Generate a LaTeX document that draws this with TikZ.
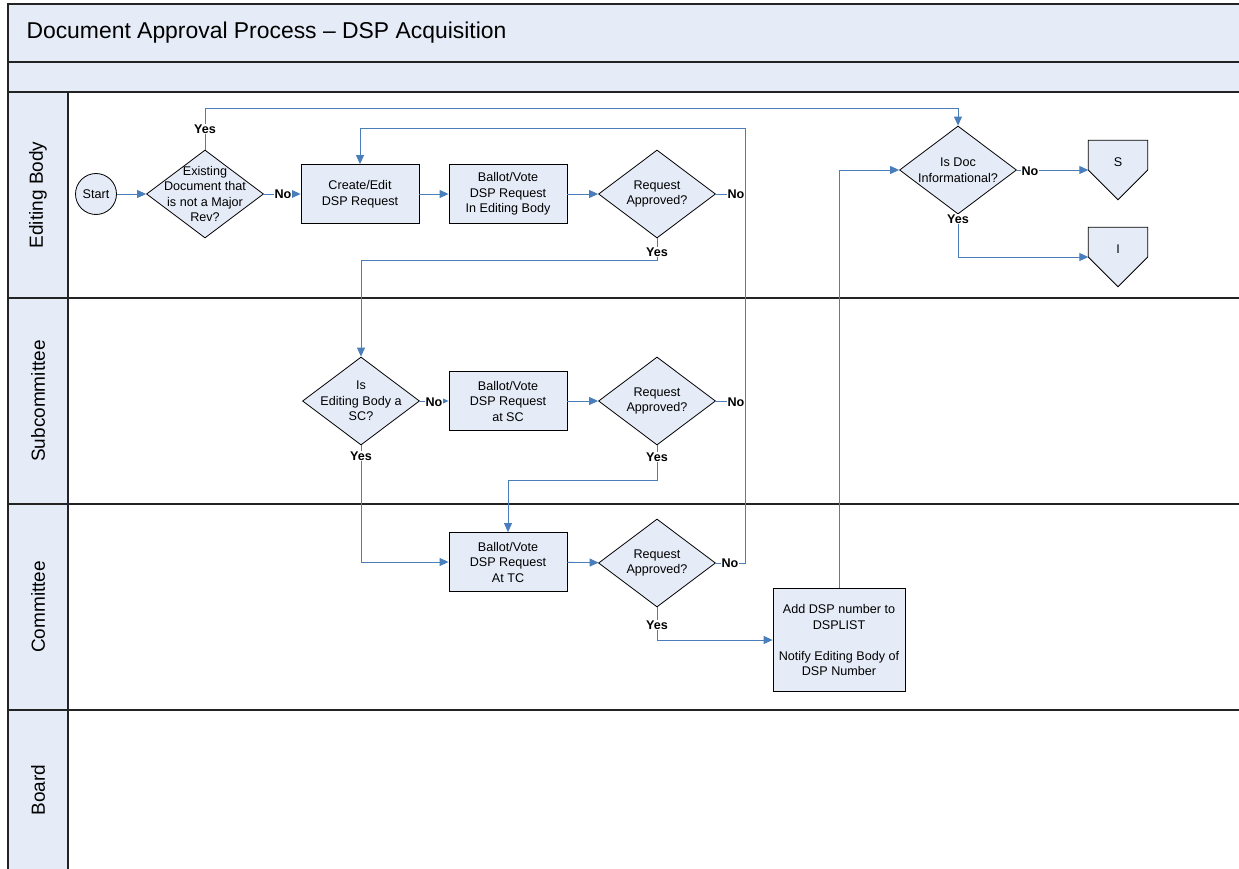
\documentclass[tikz,border=0pt]{standalone}
\usepackage{fontspec}
\setmainfont{Liberation Sans}
\usetikzlibrary{shapes.geometric,arrows.meta,calc}
\definecolor{lb}{RGB}{230,236,247}
\definecolor{cn}{RGB}{74,126,187}
\definecolor{fr}{RGB}{35,35,35}
\begin{document}
\begin{tikzpicture}[x=1pt,y=-1pt,
  txt/.style={font=\fontsize{12.6}{15.5}\selectfont, align=center},
  box/.style={draw=black, fill=lb, line width=0.8pt, minimum width=118pt, minimum height=59pt, inner sep=0pt, txt},
  dia/.style={draw=black, fill=lb, line width=0.8pt, shape=diamond, minimum width=117pt, minimum height=88pt, inner sep=0pt},
  dlabel/.style={label={[txt]center:#1}},
  conn/.style={draw=cn, line width=0.9pt, -{Triangle[length=9pt,width=8pt]}},
  cline/.style={draw=cn, line width=0.9pt},
  yn/.style={font=\fontsize{12.6}{15}\selectfont\bfseries, fill=white, inner sep=1pt},
  lanelbl/.style={font=\fontsize{19}{21}\selectfont, rotate=90},
  frame/.style={draw=fr, line width=1.1pt},
]
\useasboundingbox (0,0) rectangle (1239,869);
% frame
\fill[lb] (8,4) rectangle (1245,92);
\fill[lb] (8,92) rectangle (68,869);
\draw[frame] (1245,4) -- (8,4) -- (8,869);
\draw[frame] (8,62) -- (1245,62);
\draw[frame] (8,92) -- (1245,92);
\draw[frame] (68,92) -- (68,869);
\draw[frame] (8,298) -- (1245,298);
\draw[frame] (8,504) -- (1245,504);
\draw[frame] (8,710) -- (1245,710);
\node[anchor=west, font=\fontsize{22.9}{26}\selectfont] (title) at (23,33) {Document Approval Process -- DSP Acquisition};
\node[lanelbl] (l1) at (38,195) {Editing Body};
\node[lanelbl] (l2) at (38,401) {Subcommittee};
\node[lanelbl] (l3) at (38,607) {Committee};
\node[lanelbl] (l4) at (38,790) {Board};

% nodes
\node[draw=black, fill=lb, line width=0.8pt, circle, minimum size=41pt, inner sep=0pt, txt] (start) at (96,194) {Start};
\node[dia, dlabel={Existing\\Document that\\is not a Major\\Rev?}] (d1) at (205,194) {};
\node[box] (create) at (360,194) {Create/Edit\\DSP Request};
\node[box] (b1) at (508,194) {Ballot/Vote\\DSP Request\\In Editing Body};
\node[dia, dlabel={Request\\Approved?}] (d2) at (657,194) {};
\node[dia, dlabel={Is Doc\\Informational?}] (isdoc) at (958,170) {};
\node[minimum width=59pt, minimum height=59pt, inner sep=0pt] (S) at (1118,170) {};
\node[minimum width=59pt, minimum height=59pt, inner sep=0pt] (I) at (1118,257) {};
\draw[black, fill=lb, line width=0.8pt] (S.north west) -- (S.north east) -- (S.east) -- (S.south) -- (S.west) -- cycle;
\draw[black, fill=lb, line width=0.8pt] (I.north west) -- (I.north east) -- (I.east) -- (I.south) -- (I.west) -- cycle;
\node[txt] (St) at (1118,162) {S};
\node[txt] (It) at (1118,249) {I};

\node[dia, dlabel={Is\\Editing Body a\\SC?}] (sc) at (361,401) {};
\node[box] (b2) at (508,401) {Ballot/Vote\\DSP Request\\at SC};
\node[dia, dlabel={Request\\Approved?}] (d3) at (657,401) {};

\node[box] (b3) at (508,562) {Ballot/Vote\\DSP Request\\At TC};
\node[dia, dlabel={Request\\Approved?}] (d4) at (657,563) {};
\node[draw=black, fill=lb, line width=0.8pt, minimum width=132pt, minimum height=103pt, inner sep=0pt, txt] (add) at (839,640) {Add DSP number to\\DSPLIST\\[15.5pt]Notify Editing Body of\\DSP Number};

% helper coordinates
\coordinate (ytop) at (0,108);
\coordinate (noline) at (745,128);
\coordinate (y260) at (0,260);
\coordinate (y480) at (0,480);

% connectors
\draw[conn] (start) -- (d1);
\draw[conn] (d1.north) -- (d1.north |- ytop) -| (isdoc.north);
\draw[conn] (d1.east) -- (create.west);
\draw[conn] (create) -- (b1);
\draw[conn] (b1) -- (d2);
\draw[conn] (d2.east) -| (noline) -| (create.north);
\draw[conn] (d2.south) -- (d2.south |- y260) -| (sc.north);
\draw[conn] (sc.east) -- (b2.west);
\draw[conn] (b2) -- (d3);
\draw[cline] (d3.east) -- (noline |- d3.east);
\draw[cline] (d4.east) -| (noline);
\draw[conn] (sc.south) |- (b3.west);
\draw[conn] (d3.south) -- (d3.south |- y480) -| (b3.north);
\draw[conn] (b3) -- (d4);
\draw[conn] (d4.south) |- (add.west);
\draw[conn] (add.north) |- (isdoc.west);
\draw[conn] (isdoc.east) -- (S.west);
\draw[conn] (isdoc.south) |- (I.west);

% labels
\node[yn] (y1) at (205,129) {Yes};
\node[yn] (n1) at (283,194) {No};
\node[yn] (n2) at (736,194) {No};
\node[yn] (y2) at (657,252) {Yes};
\node[yn] (n3) at (1030,171) {No};
\node[yn] (y3) at (958,219) {Yes};
\node[yn] (n4) at (434,402) {No};
\node[yn] (n5) at (736,402) {No};
\node[yn] (y4) at (361,456) {Yes};
\node[yn] (y5) at (657,457) {Yes};
\node[yn] (n6) at (730,563) {No};
\node[yn] (y6) at (657,625) {Yes};
\end{tikzpicture}
\end{document}
